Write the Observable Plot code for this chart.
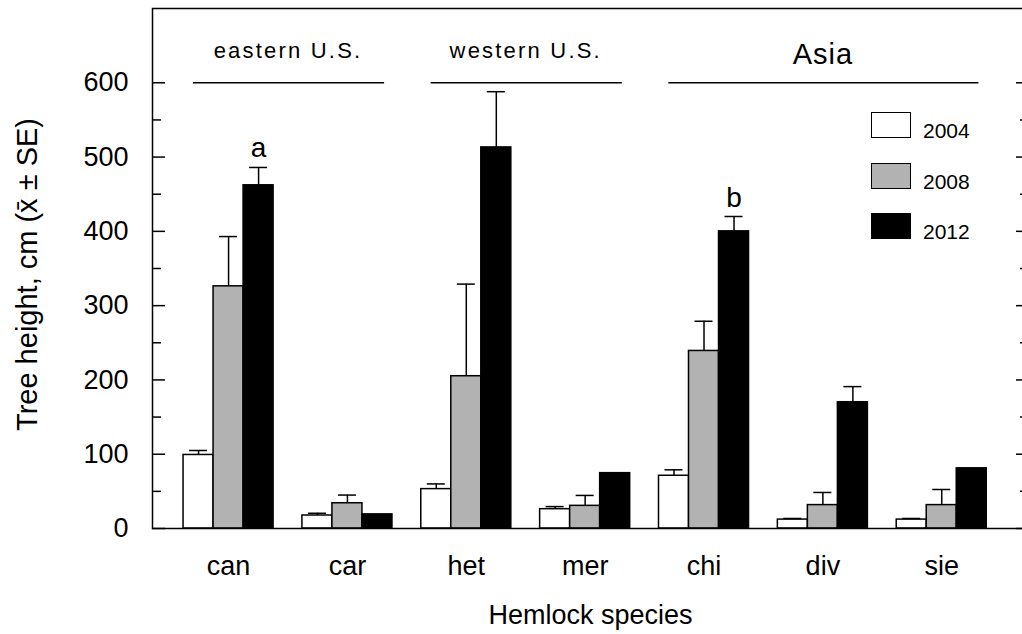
<!DOCTYPE html>
<html>
<head>
<meta charset="utf-8">
<script src="https://cdn.jsdelivr.net/npm/d3@7"></script>
<script src="https://cdn.jsdelivr.net/npm/@observablehq/plot@0.6"></script>
<style>
  html, body { margin: 0; padding: 0; background: #fff; overflow: hidden; }
  #wrap { position: relative; width: 1022px; height: 634px; font-family: "Liberation Sans", Arial, sans-serif; }
  #legend { position: absolute; left: 871px; top: 112px; }
  .row { display: flex; align-items: flex-start; height: 27px; margin-bottom: 23.5px; }
  .box { width: 38px; height: 24px; border: 1.5px solid #000; }
  .lab { margin-left: 12px; font-size: 21px; line-height: 21px; padding-top: 8px; color: #000; }
</style>
</head>
<body>
<div id="wrap"></div>
<script>
// ---- data ----
const species = ["can", "car", "het", "mer", "chi", "div", "sie"];
const years = [2004, 2008, 2012];
const fills = ["#ffffff", "#b2b2b2", "#000000"];
const mean2004 = [99, 17.5, 53, 26, 71, 12, 12];
const se2004   = [6, 3, 7, 3.5, 8, 1.5, 1.5];
const mean2008 = [326, 34, 205, 30.5, 239, 31.5, 31.5];
const se2008   = [67, 11, 124, 14, 40, 17, 21];
const mean2012 = [462, 19, 513, 74.5, 400, 170, 81];
const se2012   = [24, 0, 75, 0, 20, 21, 0];
const groups = [
  {name: "eastern U.S.", first: "can", last: "car"},
  {name: "western U.S.", first: "het", last: "mer"},
  {name: "Asia", first: "chi", last: "sie"}
];
const letters = [
  {species: "can", year: 2012, label: "a"},
  {species: "chi", year: 2012, label: "b"}
];
const yMajor = [0, 100, 200, 300, 400, 500, 600];
const yMinor = [50, 150, 250, 350, 450, 550];
const headerLevel = 600;

// ---- table ----
const means = [mean2004, mean2008, mean2012];
const ses = [se2004, se2008, se2012];
const rows = [];
species.forEach((s, i) => years.forEach((yr, j) => rows.push({species: s, si: i, year: yr, yi: j, mean: means[j][i], se: ses[j][i]})));
const withSE = rows.filter(d => d.se > 0);

const bw = 0.2525; // bar width in category units
const bx1 = d => d.si + (d.yi - 1.5) * bw;
const bx2 = d => bx1(d) + bw;
const bxc = d => bx1(d) + bw / 2;
const idx = s => species.indexOf(s);
const rowOf = (s, y) => rows.find(r => r.species === s && r.year === y);
const usGroups = groups.filter(g => g.name !== "Asia");
const asiaGroups = groups.filter(g => g.name === "Asia");

const plot = Plot.plot({
  width: 1022,
  height: 634,
  marginLeft: 152,
  marginRight: -6,
  marginTop: 8,
  marginBottom: 106,
  style: {fontFamily: "'Liberation Sans', Arial, sans-serif", color: "#000", background: "#fff"},
  x: {type: "linear", domain: [-0.64, 6.73]},
  y: {domain: [0, 700]},
  color: {type: "ordinal", domain: years, range: fills},
  marks: [
    Plot.rectY(rows, {x1: bx1, x2: bx2, y1: () => 0, y2: "mean", fill: "year", stroke: "#000", strokeWidth: 1.5}),
    Plot.ruleX(withSE, {x: bxc, y1: "mean", y2: d => d.mean + d.se, stroke: "#000", strokeWidth: 1.5}),
    Plot.ruleY(withSE, {y: d => d.mean + d.se, x1: bx1, x2: bx2, insetLeft: 6, insetRight: 6, stroke: "#000", strokeWidth: 1.5}),
    Plot.frame({stroke: "#000", strokeWidth: 1.5}),
    // y axis left
    Plot.axisY(yMajor, {anchor: "left", tickSize: 0, tickPadding: 24, fontSize: 27, label: null}),
    Plot.axisY(yMajor, {anchor: "left", tickSize: -13, tickFormat: () => "", strokeWidth: 1.5, label: null}),
    Plot.axisY(yMinor, {anchor: "left", tickSize: -9, tickFormat: () => "", strokeWidth: 1.5, label: null}),
    // y axis right (ticks only)
    Plot.axisY(yMajor, {anchor: "right", tickSize: -13, tickFormat: () => "", strokeWidth: 1.5, label: null}),
    Plot.axisY(yMinor, {anchor: "right", tickSize: -9, tickFormat: () => "", strokeWidth: 1.5, label: null}),
    // x axis labels
    Plot.axisX(species.map((s, i) => i), {anchor: "bottom", tickSize: 0, tickPadding: 27, fontSize: 27, tickFormat: i => species[i], label: null}),
    // axis titles
    Plot.text(["Hemlock species"], {frameAnchor: "bottom", lineAnchor: "bottom", dy: 95, fontSize: 27, fill: "#000"}),
    Plot.text(["Tree height, cm (x\u0304 \u00B1 SE)"], {frameAnchor: "left", textAnchor: "middle", lineAnchor: "middle", rotate: -90, dx: -125, dy: 6, fontSize: 29, fill: "#000"}),
    // group headers
    Plot.ruleY(groups, {y: () => headerLevel, x1: g => idx(g.first) - 0.38, x2: g => idx(g.last) + 0.38, insetLeft: 10, insetRight: 8, stroke: "#000", strokeWidth: 1.5}),
    Plot.text(usGroups, {x: g => (idx(g.first) + idx(g.last)) / 2, y: () => headerLevel, text: "name", dy: -32, fontSize: 22, fill: "#000"}),
    Plot.text(asiaGroups, {x: g => (idx(g.first) + idx(g.last)) / 2, y: () => headerLevel, text: "name", dy: -28, fontSize: 29, fill: "#000"}),
    // significance letters
    Plot.text(letters, {x: d => bxc(rowOf(d.species, d.year)), y: d => { const r = rowOf(d.species, d.year); return r.mean + r.se; }, text: "label", lineAnchor: "bottom", dy: -10, fontSize: 28, fill: "#000"})
  ]
});

d3.select(plot).selectAll("text").filter(function() { return /U\.S\./.test(this.textContent); }).attr("letter-spacing", "2.2px");
d3.select(plot).selectAll("text").filter(function() { return this.textContent === "Asia"; }).attr("letter-spacing", "1px");

const wrap = document.getElementById("wrap");
wrap.appendChild(plot);

// legend
const legend = document.createElement("div");
legend.id = "legend";
years.forEach((yr, j) => {
  const row = document.createElement("div");
  row.className = "row";
  const box = document.createElement("div");
  box.className = "box";
  box.style.background = fills[j];
  const lab = document.createElement("div");
  lab.className = "lab";
  lab.textContent = String(yr);
  row.appendChild(box);
  row.appendChild(lab);
  legend.appendChild(row);
});
wrap.appendChild(legend);
</script>
</body>
</html>
